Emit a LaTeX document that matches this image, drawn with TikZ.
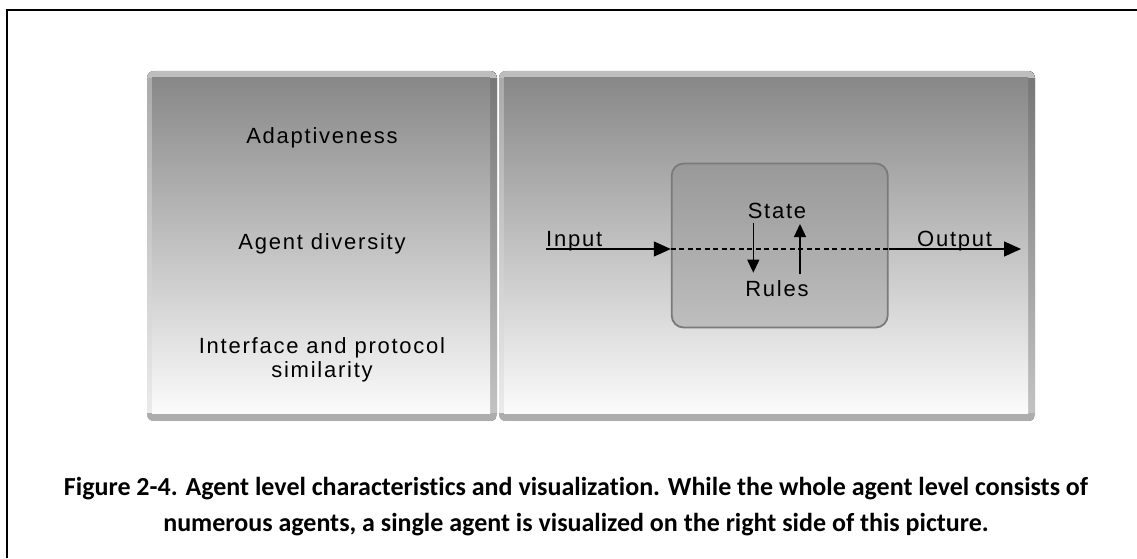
\documentclass[tikz,border=0pt]{standalone}
\usepackage{fontspec}
\setmainfont{Liberation Sans}
\newfontfamily\panelfont[LetterSpace=8]{Liberation Sans}
\newfontfamily\capfont[Ligatures=NoCommon]{Carlito}
\usetikzlibrary{arrows.meta}
\definecolor{faceTop}{HTML}{888888}
\definecolor{faceBot}{HTML}{FBFBFB}
\definecolor{leftTop}{HTML}{A9A9A9}
\definecolor{leftBot}{HTML}{ECECEC}
\definecolor{topEdge}{HTML}{BDBDBD}
\definecolor{rightTop}{HTML}{767676}
\definecolor{rightBot}{HTML}{C4C4C4}
\definecolor{botEdge}{HTML}{ADADAD}
\definecolor{boxTop}{HTML}{999999}
\definecolor{boxBot}{HTML}{BEBEBE}
\definecolor{boxLine}{HTML}{7A7A7A}
\newcommand\agentpanel[4]{%
  \begin{scope}
    \clip[rounded corners=7pt] (#1,#2) rectangle (#3,#4);
    \fill[top color=leftTop, bottom color=leftBot] (#1,#2) rectangle (#3,#4);
    \fill[top color=rightTop, bottom color=rightBot] ({#3-7},#2) rectangle (#3,#4);
    \fill[botEdge] (#1,#2) rectangle (#3,{#2+8});
    \fill[topEdge] (#1,{#4-7}) rectangle (#3,#4);
    \fill[top color=faceTop, bottom color=faceBot] ({#1+5},{#2+8}) rectangle ({#3-7},{#4-7});
  \end{scope}}
\tikzset{
  paneltext/.style={font=\panelfont\fontsize{22}{24}\selectfont, inner sep=0pt, anchor=base},
  capline/.style={font=\capfont\bfseries\fontsize{26}{31}\selectfont, inner sep=0pt, anchor=base},
  mainarrow/.style={line width=1.3pt, -{Triangle[length=17pt,width=15pt]}},
  smallarrow/.style={line width=1.3pt, -{Triangle[length=13pt,width=12pt]}},
  innerbox/.style={draw=boxLine, line width=1.8pt, rounded corners=12pt, top color=boxTop, bottom color=boxBot, minimum width=216pt, minimum height=164pt, inner sep=0pt},
}
\begin{document}
\begin{tikzpicture}[x=1pt,y=1pt]
\useasboundingbox (0,0) rectangle (1137,558);
% frame (top and left rules)
\draw[line width=2.6pt] (7,0) -- (7,548) -- (1137,548);
% panels
\agentpanel{147}{137}{497}{487}
\agentpanel{499}{137}{1035}{487}
% left panel texts
\node[paneltext] (adapt) at (322,414) {Adaptiveness};
\node[paneltext] (divers) at (322,309) {Agent diversity};
\node[paneltext] (iface) at (322,205) {Interface and protocol};
\node[paneltext] (simil) at (322,181) {similarity};
% agent box
\node[innerbox] (agent) at (779.7,312.5) {};
\coordinate (inL) at (546,309);
\coordinate (outR) at (1021,309);
\draw[mainarrow] (inL) -- (agent.west |- inL);
\draw[line width=1.3pt, dash pattern=on 5pt off 3.5pt] (agent.west |- inL) -- (agent.east |- inL);
\draw[mainarrow] (agent.east |- inL) -- (outR);
\node[paneltext, anchor=base west] (input) at (546,311.3) {Input};
\node[paneltext, anchor=base west] (output) at (917,311.3) {Output};
\node[paneltext] (state) at (777,339.7) {State};
\node[paneltext] (rules) at (777,262) {Rules};
\coordinate (dA) at (753.3,335.3);
\coordinate (dB) at (753.3,285.3);
\coordinate (uA) at (800,284);
\coordinate (uB) at (800,334);
\draw[smallarrow] (dA) -- (dB);
\draw[smallarrow] (uA) -- (uB);
% caption
\node[capline] (cap1) at (576,63) {Figure 2-4. Agent level characteristics and visualization. While the whole agent level consists of};
\node[capline] (cap2) at (576,27) {numerous agents, a single agent is visualized on the right side of this picture.};
\end{tikzpicture}
\end{document}
